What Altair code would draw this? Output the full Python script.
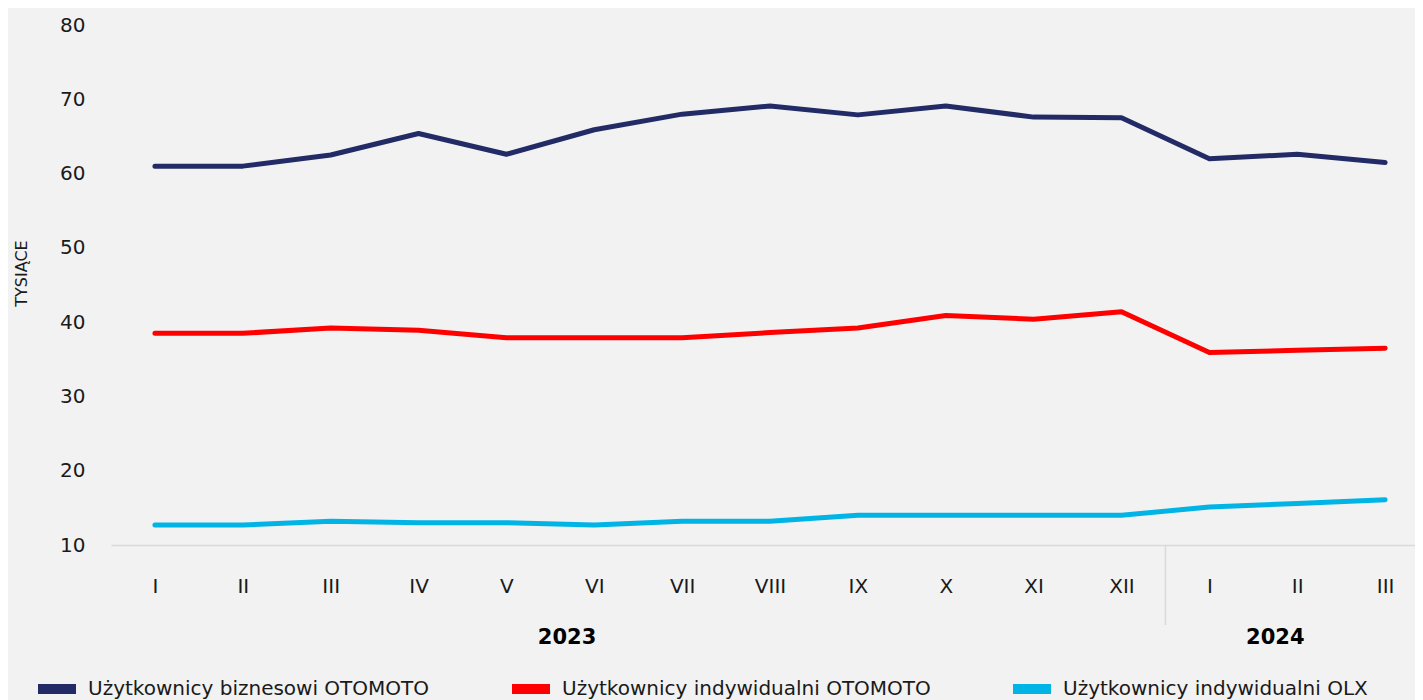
import altair as alt
import pandas as pd

months = ["I", "II", "III", "IV", "V", "VI", "VII", "VIII", "IX", "X", "XI", "XII", "I", "II", "III"]
years = ["2023"] * 12 + ["2024"] * 3
biz_otomoto = [61.0, 61.0, 62.5, 65.4, 62.6, 65.9, 68.0, 69.1, 67.9, 69.1, 67.6, 67.5, 62.0, 62.6, 61.5]
ind_otomoto = [38.5, 38.5, 39.2, 38.9, 37.9, 37.9, 37.9, 38.6, 39.2, 40.9, 40.4, 41.4, 35.9, 36.2, 36.5]
ind_olx = [12.7, 12.7, 13.2, 13.0, 13.0, 12.7, 13.2, 13.2, 14.0, 14.0, 14.0, 14.0, 15.1, 15.6, 16.1]
series_names = ["Użytkownicy biznesowi OTOMOTO", "Użytkownicy indywidualni OTOMOTO", "Użytkownicy indywidualni OLX"]
series_colors = ["#232B66", "#FF0000", "#00B4E6"]
year_labels = ["2023", "2024"]

FONT = "DejaVu Sans"
TXT = "#1a1a1a"
W, H = 1304, 520

rows = []
for name, vals in zip(series_names, [biz_otomoto, ind_otomoto, ind_olx]):
    for i, (m, y, v) in enumerate(zip(months, years, vals)):
        rows.append({"idx": i, "month": m, "year": y, "series": name, "value": v})
df = pd.DataFrame(rows)

# year group label positions (in category-index units)
year_pos = [4.69, 12.75]
df_years = pd.DataFrame({"pos": year_pos, "label": year_labels})
sep_pos = 11.5

label_expr = "[" + ",".join('"%s"' % m for m in months) + "][datum.value]"

x_scale = alt.Scale(domain=[-0.5, 14.34], nice=False, zero=False)

lines = alt.Chart(df).mark_line(strokeWidth=5, strokeCap="round", strokeJoin="round").encode(
    x=alt.X("idx:Q", scale=x_scale,
            axis=alt.Axis(values=list(range(len(months))), labelExpr=label_expr, title=None,
                          ticks=False, grid=False, domain=True, domainColor="#d9d9d9", domainWidth=1.5,
                          labelFontSize=20, labelFont=FONT, labelColor=TXT, labelPadding=31,
                          labelFlush=False)),
    y=alt.Y("value:Q", scale=alt.Scale(domain=[10, 80], nice=False, zero=False),
            axis=alt.Axis(values=[10, 20, 30, 40, 50, 60, 70, 80], title="TYSIĄCE", ticks=False,
                          grid=False, domain=False, labelFontSize=20, labelFont=FONT, labelColor=TXT,
                          labelPadding=26, titleFont=FONT, titleFontSize=16, titleFontWeight="normal",
                          titleColor=TXT, titleX=-82, titleY=248)),
    color=alt.Color("series:N", scale=alt.Scale(domain=series_names, range=series_colors),
                    sort=series_names,
                    legend=alt.Legend(title=None, orient="none", direction="horizontal", columns=3,
                                      legendX=-78, legendY=640,
                                      symbolType="stroke", symbolSize=1444, symbolStrokeWidth=10,
                                      symbolOpacity=1,
                                      labelFontSize=20, labelFont=FONT, labelColor=TXT,
                                      columnPadding=62, labelOffset=7, labelLimit=600)),
    detail="series:N",
)

sep = alt.Chart(pd.DataFrame({"pos": [sep_pos]})).mark_rule(color="#d9d9d9", strokeWidth=1.5).encode(
    x=alt.X("pos:Q", scale=x_scale),
    y=alt.value(H),
    y2=alt.value(H + 80),
)

year_text = alt.Chart(df_years).mark_text(fontSize=21, fontWeight="bold", font=FONT, color="#000000",
                                           baseline="middle", align="center").encode(
    x=alt.X("pos:Q", scale=x_scale),
    y=alt.value(H + 93),
    text="label:N",
)

chart = alt.layer(lines, sep, year_text).properties(
    width=W, height=H,
    background="#f2f2f2",
    padding={"left": 103, "top": 17, "right": 0, "bottom": 155},
    autosize=alt.AutoSizeParams(type="none"),
).configure_view(stroke=None)

chart.save("out.html", embed_options={"renderer": "svg", "actions": False})
